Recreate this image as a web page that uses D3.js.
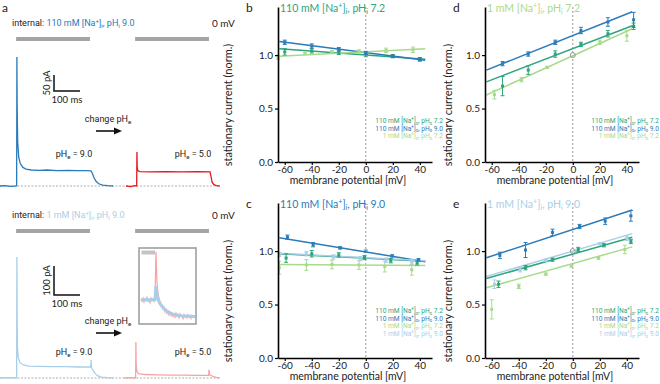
<!DOCTYPE html>
<html>
<head>
<meta charset="utf-8">
<script src="https://cdn.jsdelivr.net/npm/d3@7"></script>
<style>
  body { margin: 0; background: #fff; }
  svg { display: block; font-family: Lato, "Open Sans", sans-serif; }
  .narrow { font-family: "Liberation Sans Narrow", Roboto, sans-serif; }
</style>
</head>
<body>
<div id="chart"></div>
<script>
// colours
const cGreen = "#2ca57b", cBlue = "#2b7bba", cLGreen = "#a8da8c", cLBlue = "#a9cfe8";
const cRed = "#e31a1c", cPink = "#f7a3a3", cBar = "#a3a3a3";

// axis ticks
const vTicks = [-60, -40, -20, 0, 20, 40];
const iTicks = [0, 0.5, 1.0];
const vDomain = [-65, 49];
const iDomain = [0, 1.45];

// legend texts
const lab110_72 = "110 mM [Na^{+}]_{o}, pH_{o} 7.2";
const lab110_90 = "110 mM [Na^{+}]_{o}, pH_{o} 9.0";
const lab1_72 = "1 mM [Na^{+}]_{o}, pH_{o} 7.2";
const lab1_90 = "1 mM [Na^{+}]_{o}, pH_{o} 9.0";

// ---- panel b : 110 mM [Na+]i, pHi 7.2
const bVolt = [-60, -40, -20, 0, 20, 40];
const bVoltL = [-65, -45, -25, -5, 15, 35];
const bGreen = [1.03, 1.04, 1.02, 1.00, 0.99, 0.96];
const bGreenErr = [0.03, 0.02, 0.015, 0.015, 0.015, 0.015];
const bBlue = [1.12, 1.085, 1.055, 1.02, 0.99, 0.96];
const bBlueErr = [0.02, 0.02, 0.015, 0.015, 0.01, 0.015];
const bLGreen = [0.98, 1.015, 1.03, 1.035, 1.045, 1.05];
const bLGreenErr = [0.02, 0.01, 0.01, 0.015, 0.02, 0.025];
const bFits = [[1.001, -0.00091], [1.023, -0.00164], [1.031, 0.00064]]; // [value at 0 mV, slope]

// ---- panel c : 110 mM [Na+]i, pHi 9.0
const pcVoltB = [-58, -39, -19, 0, 19.5, 39];
const pcBlue = [1.13, 1.06, 1.03, 1.0, 0.955, 0.92];
const pcBlueErr = [0.02, 0.02, 0.01, 0.01, 0.01, 0.01];
const pcVoltG = [-59, -40, -20, -1, 18.5, 38];
const pcGreen = [0.935, 0.975, 0.965, 0.94, 0.91, 0.89];
const pcGreenErr = [0.04, 0.03, 0.02, 0.02, 0.02, 0.02];
const pcVoltLB = [-64, -44, -24, -4, 15, 34];
const pcLBlue = [0.97, 0.975, 0.945, 0.93, 0.915, 0.90];
const pcLBlueErr = [0.02, 0.02, 0.02, 0.02, 0.02, 0.02];
const pcVoltLG = [-64, -44, -25, -5, 14, 34];
const pcLGreen = [0.845, 0.87, 0.875, 0.87, 0.855, 0.825];
const pcLGreenErr = [0.06, 0.05, 0.04, 0.04, 0.05, 0.05];
const pcFits = [[0.933, -0.00066], [0.992, -0.00208], [0.869, -0.00009], [0.938, -0.00066]];

// ---- panel d : 1 mM [Na+]i, pHi 7.2
const dVolt = [-52, -33, -13, 6, 26, 45];
const dVoltL = [-58, -38, -19, 0, 20, 40];
const dGreen = [0.71, 0.86, 1.01, 1.10, 1.20, 1.27];
const dGreenErr = [0.09, 0.04, 0.03, 0.02, 0.03, 0.03];
const dBlue = [0.92, 1.01, 1.12, 1.23, 1.31, 1.33];
const dBlueErr = [0.02, 0.02, 0.02, 0.03, 0.04, 0.07];
const dLGreen = [0.63, 0.77, 0.885, 1.0, 1.12, 1.18];
const dLGreenErr = [0.04, 0.02, 0.01, 0, 0.02, 0.05];
const dFits = [[1.061, 0.00486], [1.183, 0.00505], [0.994, 0.00574]];

// ---- panel e : 1 mM [Na+]i, pHi 9.0
const eVoltB = [-54, -35, -15, 5, 24, 43];
const eBlue = [0.96, 1.01, 1.175, 1.23, 1.28, 1.33];
const eBlueErr = [0.03, 0.07, 0.03, 0.02, 0.03, 0.05];
const eVoltG = [-55, -35, -15, 4, 23, 43];
const eGreen = [0.69, 0.845, 0.92, 1.015, 1.055, 1.09];
const eGreenErr = [0.03, 0.02, 0.015, 0.02, 0.015, 0.02];
const eVoltLB = [-58, -39, -20, 0, 20, 40];
const eLBlue = [0.69, 0.825, 0.915, 1.0, 1.07, 1.12];
const eLBlueErr = [0.04, 0.02, 0.01, 0, 0.01, 0.02];
const eVoltLG = [-60, -40, -20, -1, 19, 38.5];
const eLGreen = [0.455, 0.67, 0.785, 0.86, 0.935, 1.015];
const eLGreenErr = [0.09, 0.02, 0.01, 0.01, 0.01, 0.04];
const eFits = [[0.972, 0.00357], [1.202, 0.00413], [0.884, 0.00354], [1.0, 0.00371]];

// ---- panel a : current traces [ms, pA]
const traceBlue = [[0,0],[20,1],[40,-1],[64,0],[65,403],[66,250],[68,140],[72,90],[78,70],[88,58],[100,53],[120,50],[150,49],[180,50],[220,48],[260,49],[300,48],[330,48],[350,47],[355,40],[362,25],[370,14],[380,7],[395,3],[415,1],[435,0]];
const traceRed = [[27,0],[45,-2],[60,1],[68,0],[69,106],[70,60],[72,48],[80,45],[120,44],[180,45],[240,44],[300,45],[350,44],[354,30],[358,12],[365,4],[375,1],[388,0]];
const traceLBlue = [[0,0],[30,1],[64,0],[65,417],[66,200],[67,110],[70,70],[78,52],[90,45],[110,41],[150,40],[200,39],[250,39],[300,38],[349,38],[350,62],[352,36],[358,25],[366,15],[375,8],[390,3],[410,1],[435,0]];
const tracePink = [[19,0],[40,1],[64,0],[65,124],[66,50],[68,25],[75,15],[100,12],[150,11],[200,10],[250,10],[300,9],[345,9],[346,28],[348,12],[360,6],[375,2],[388,0]];
const lightOn = [62, 346];
// inset (arbitrary units)
const insetPink = [33,30,34,29,33,31,35,30,32,28,34,31,33,30,36,95,55,40,34,30,26,25,20,22,16,19,14,17,12,15,11,14,10,13,9,14,10,12,8,13,10,11,7,12,9,11,8,12,9,10,7,11,9,10,8];
const insetBlue = [[0,32],[14,32],[15,50],[16,38],[17,33],[18,29],[20,25],[23,20],[27,16],[32,13],[40,11],[54,10]];

const svg = d3.select("#chart").append("svg").attr("width", 660).attr("height", 384);

// text with _{sub} and ^{sup}; fs = font size of the parent text
function rich(sel, str, fs) {
  const re = /([_^])\{([^}]*)\}/g;
  let last = 0, m, off = 0;
  const plain = s => { sel.append("tspan").attr("dy", -off).text(s); off = 0; };
  while ((m = re.exec(str)) !== null) {
    if (m.index > last) plain(str.slice(last, m.index));
    const shift = m[1] === "_" ? fs * 0.22 : -fs * 0.38;
    sel.append("tspan").attr("dy", shift - off).attr("font-size", fs * 0.68).text(m[2]);
    off = shift;
    last = re.lastIndex;
  }
  plain(last < str.length ? str.slice(last) : "");
  return sel;
}

function series(volt, val, err, color) {
  return volt.map((v, i) => ({ v, i: val[i], e: err[i], color }));
}

function ivPanel(p) {
  const x = d3.scaleLinear().domain(vDomain).range([p.left, p.left + 154]);
  const y = d3.scaleLinear().domain(iDomain).range([p.bottom, p.bottom - 155]);
  const g = svg.append("g");

  g.append("line")
    .attr("x1", x(0)).attr("x2", x(0))
    .attr("y1", y(iDomain[1])).attr("y2", y(0))
    .attr("stroke", "#999").attr("stroke-dasharray", "2,2");

  // fit lines
  const fitRange = [-64, 44];
  p.fits.forEach((f, k) => {
    g.append("path")
      .datum(fitRange)
      .attr("fill", "none")
      .attr("stroke", p.colors[k])
      .attr("stroke-width", 1.5)
      .attr("d", d3.line().x(v => x(v)).y(v => y(f[0] + f[1] * v)));
  });

  // points + error bars
  p.series.forEach(s => {
    const pts = g.append("g").selectAll("g").data(s).join("g")
      .attr("stroke", d => d.color).attr("fill", d => d.color);
    pts.filter(d => d.e > 0).append("line")
      .attr("x1", d => x(d.v)).attr("x2", d => x(d.v))
      .attr("y1", d => y(d.i - d.e)).attr("y2", d => y(d.i + d.e));
    pts.filter(d => d.e > 0).append("line")
      .attr("x1", d => x(d.v) - 2).attr("x2", d => x(d.v) + 2)
      .attr("y1", d => y(d.i - d.e)).attr("y2", d => y(d.i - d.e));
    pts.filter(d => d.e > 0).append("line")
      .attr("x1", d => x(d.v) - 2).attr("x2", d => x(d.v) + 2)
      .attr("y1", d => y(d.i + d.e)).attr("y2", d => y(d.i + d.e));
    pts.filter(d => !(d.v === 0 && d.i === 1)).append("rect")
      .attr("x", d => x(d.v) - 1.5).attr("y", d => y(d.i) - 1.5)
      .attr("width", 3).attr("height", 3).attr("stroke", "none");
  });

  // normalisation point
  g.append("circle")
    .attr("cx", x(0)).attr("cy", y(1))
    .attr("r", 2.5).attr("fill", "none")
    .attr("stroke", "#999").attr("stroke-width", 1)
    .attr("display", p.norm ? null : "none");

  // axes
  const ax = g.append("g")
    .attr("transform", `translate(0,${y(0)})`)
    .call(d3.axisBottom(x).tickValues(vTicks).tickSize(3).tickPadding(1).tickSizeOuter(0).tickFormat(d => String(d)));
  const ay = g.append("g")
    .attr("transform", `translate(${x(vDomain[0])},0)`)
    .call(d3.axisLeft(y).tickValues(iTicks).tickSize(3).tickPadding(2).tickSizeOuter(0).tickFormat(d3.format(".1f")));
  [ax, ay].forEach(a => {
    a.selectAll("text").attr("font-size", 10).attr("font-family", "Lato, sans-serif").attr("fill", "#222");
    a.select(".domain").attr("stroke-width", 1.6);
    a.selectAll(".tick line").attr("stroke-width", 1.2);
  });

  g.append("text")
    .attr("transform", `translate(${p.ylabX},${p.bottom - 57}) rotate(-90)`)
    .attr("text-anchor", "middle").attr("font-size", 11).attr("fill", "#222")
    .text("stationary current (norm.)");
  g.append("text")
    .attr("x", p.left + 70).attr("y", p.bottom + 22)
    .attr("text-anchor", "middle").attr("font-size", 10.5).attr("fill", "#222")
    .text("membrane potential [mV]");

  g.append("text")
    .attr("x", p.left - 32).attr("y", p.top + 5)
    .attr("font-size", 12).attr("fill", "#222")
    .text(p.letter);
  rich(g.append("text")
    .attr("x", p.left + 2).attr("y", p.top + 5)
    .attr("font-size", 10.5).attr("fill", p.titleColor), p.title, 10.5);

  // legend (condensed)
  p.legend.forEach((l, k) => {
    rich(g.append("text")
      .attr("class", "narrow")
      .attr("transform", `translate(${p.legendX},${p.legendY + k * 7.7}) scale(0.85,1)`)
      .attr("text-anchor", "end").attr("font-size", 7.8)
      .attr("fill", p.colors[k]), l, 7.8);
  });
}

ivPanel({
  left: 278, top: 7, bottom: 162, letter: "b", ylabX: 232,
  title: "110 mM [Na^{+}]_{i}, pH_{i} 7.2", titleColor: cGreen,
  colors: [cGreen, cBlue, cLGreen],
  fits: bFits,
  series: [series(bVoltL, bLGreen, bLGreenErr, cLGreen), series(bVolt, bGreen, bGreenErr, cGreen), series(bVolt, bBlue, bBlueErr, cBlue)],
  legend: [lab110_72, lab110_90, lab1_72], legendX: 443, legendY: 123
});
ivPanel({
  left: 278, top: 203, bottom: 358, letter: "c", ylabX: 232,
  title: "110 mM [Na^{+}]_{i}, pH_{i} 9.0", titleColor: cBlue,
  colors: [cGreen, cBlue, cLGreen, cLBlue],
  fits: pcFits,
  series: [series(pcVoltLG, pcLGreen, pcLGreenErr, cLGreen), series(pcVoltLB, pcLBlue, pcLBlueErr, cLBlue), series(pcVoltG, pcGreen, pcGreenErr, cGreen), series(pcVoltB, pcBlue, pcBlueErr, cBlue)],
  legend: [lab110_72, lab110_90, lab1_72, lab1_90], legendX: 443, legendY: 313
});
ivPanel({
  left: 485, top: 7, bottom: 162, letter: "d", norm: true, ylabX: 452,
  title: "1 mM [Na^{+}]_{i}, pH_{i} 7.2", titleColor: cLGreen,
  colors: [cGreen, cBlue, cLGreen],
  fits: dFits,
  series: [series(dVoltL, dLGreen, dLGreenErr, cLGreen), series(dVolt, dGreen, dGreenErr, cGreen), series(dVolt, dBlue, dBlueErr, cBlue)],
  legend: [lab110_72, lab110_90, lab1_72], legendX: 659, legendY: 123
});
ivPanel({
  left: 485, top: 203, bottom: 358, letter: "e", norm: true, ylabX: 452,
  title: "1 mM [Na^{+}]_{i}, pH_{i} 9.0", titleColor: cLBlue,
  colors: [cGreen, cBlue, cLGreen, cLBlue],
  fits: eFits,
  series: [series(eVoltLG, eLGreen, eLGreenErr, cLGreen), series(eVoltLB, eLBlue, eLBlueErr, cLBlue), series(eVoltG, eGreen, eGreenErr, cGreen), series(eVoltB, eBlue, eBlueErr, cBlue)],
  legend: [lab110_72, lab110_90, lab1_72, lab1_90], legendX: 659, legendY: 313
});

// ---- panel a
const t = d3.scaleLinear().domain([0, 100]).range([0, 26]); // 100 ms = 26 px

function tracePanel(p) {
  const g = svg.append("g");
  const y = d3.scaleLinear().domain([0, 100]).range([p.base, p.base - p.px100]);
  const line = d3.line().x(d => t(d[0])).y(d => y(d[1]));

  g.append("text").attr("class", "narrow").attr("x", 12).attr("y", p.base - 160)
    .attr("font-size", 9).attr("fill", "#222")
    .call(s => { s.append("tspan").text("internal: "); rich(s.append("tspan").attr("fill", p.labelColor), p.label, 9); });
  g.append("text").attr("x", 212).attr("y", p.base - 159)
    .attr("font-size", 10).attr("fill", "#222").text("0 mV");

  [0, 119].forEach(o => {
    g.append("line")
      .attr("x1", o + t(lightOn[0])).attr("x2", o + t(lightOn[1]))
      .attr("y1", p.base - 147).attr("y2", p.base - 147)
      .attr("stroke", cBar).attr("stroke-width", 4);
  });

  g.append("line").attr("x1", 0).attr("x2", 220).attr("y1", p.base).attr("y2", p.base)
    .attr("stroke", "#999").attr("stroke-dasharray", "2,1.5").attr("stroke-width", 0.8);

  g.append("path").datum(p.trace1).attr("fill", "none").attr("stroke", p.c1)
    .attr("stroke-width", 1.3).attr("d", line);
  g.append("path").datum(p.trace2).attr("transform", "translate(119,0)")
    .attr("fill", "none").attr("stroke", p.c2).attr("stroke-width", 1.3).attr("d", line);

  // scale bar
  const sb = p.base - p.sbTop;
  g.append("path")
    .attr("d", `M54,${sb - (y(0) - y(p.sbPA))}V${sb}H${54 + t(100)}`)
    .attr("fill", "none").attr("stroke", "#111").attr("stroke-width", 1.5);
  g.append("text")
    .attr("transform", `translate(50,${sb - (y(0) - y(p.sbPA)) / 2}) rotate(-90)`)
    .attr("text-anchor", "middle").attr("font-size", 9.5).attr("fill", "#222")
    .text(p.sbPA + " pA");
  g.append("text").attr("x", 54 + t(100) / 2).attr("y", sb + 12)
    .attr("text-anchor", "middle").attr("font-size", 9.5).attr("fill", "#222").text("100 ms");

  // change arrow
  rich(g.append("text").attr("class", "narrow").attr("x", 108).attr("y", p.base - p.arrowUp - 9)
    .attr("text-anchor", "middle").attr("font-size", 9).attr("fill", "#222"), "change pH_{e}", 9);
  const ay = p.base - p.arrowUp;
  g.append("line").attr("x1", 96).attr("x2", 115).attr("y1", ay).attr("y2", ay)
    .attr("stroke", "#111").attr("stroke-width", 1.6);
  g.append("path").attr("d", `M122,${ay}L114,${ay - 3.5}L114,${ay + 3.5}Z`).attr("fill", "#111");

  rich(g.append("text").attr("class", "narrow").attr("x", 74).attr("y", p.base - p.phUp)
    .attr("text-anchor", "middle").attr("font-size", 9).attr("fill", "#222"), "pH_{e} = 9.0", 9);
  rich(g.append("text").attr("class", "narrow").attr("x", 193).attr("y", p.base - p.phUp)
    .attr("text-anchor", "middle").attr("font-size", 9).attr("fill", "#222"), "pH_{e} = 5.0", 9);
  return g;
}

tracePanel({
  base: 186, px100: 32, trace1: traceBlue, trace2: traceRed, c1: cBlue, c2: cRed,
  label: "110 mM [Na^{+}]_{i}, pH_{i} 9.0", labelColor: cBlue,
  sbTop: 95, sbPA: 50, arrowUp: 55, phUp: 29
});
tracePanel({
  base: 378, px100: 29, trace1: traceLBlue, trace2: tracePink, c1: cLBlue, c2: cPink,
  label: "1 mM [Na^{+}]_{i}, pH_{i} 9.0", labelColor: cLBlue,
  sbTop: 83, sbPA: 100, arrowUp: 45, phUp: 23
});

// inset
const ix = d3.scaleLinear().domain([0, 54]).range([141, 195]);
const iy = d3.scaleLinear().domain([0, 100]).range([324, 248]);
const inset = svg.append("g");
inset.append("rect").attr("x", 139).attr("y", 248).attr("width", 57).attr("height", 76)
  .attr("fill", "#fff").attr("stroke", "#999").attr("stroke-width", 1.5);
inset.append("line").attr("x1", 141.5).attr("x2", 155).attr("y1", 252.5).attr("y2", 252.5)
  .attr("stroke", "#c4c4c4").attr("stroke-width", 4);
inset.append("path").datum(insetPink).attr("fill", "none").attr("stroke", cPink)
  .attr("stroke-width", 1.2).attr("d", d3.line().x((d, i) => ix(i)).y(d => iy(d)));
inset.append("path").datum(insetBlue).attr("fill", "none").attr("stroke", cLBlue)
  .attr("stroke-width", 3).attr("d", d3.line().x(d => ix(d[0])).y(d => iy(d[1])));

svg.append("text").attr("x", 2).attr("y", 12).attr("font-size", 12).attr("fill", "#222").text("a");
</script>
</body>
</html>
